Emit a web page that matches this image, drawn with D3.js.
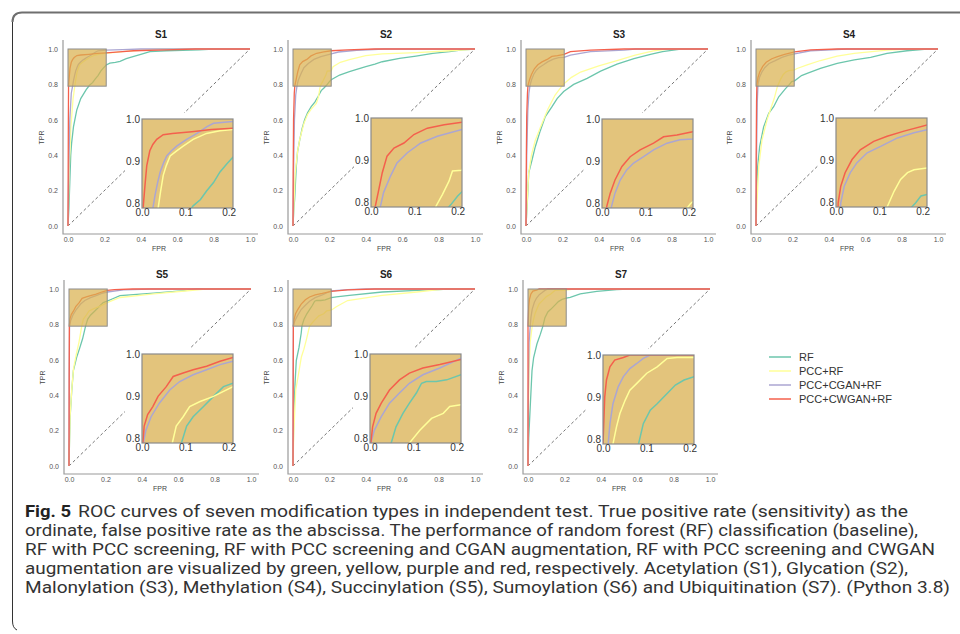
<!DOCTYPE html>
<html>
<head>
<meta charset="utf-8">
<script src="https://cdn.jsdelivr.net/npm/d3@7"></script>
<style>
  body { margin: 0; background: #fff; }
</style>
</head>
<body>
<svg id="fig" width="960" height="634"></svg>
<script>
// series / tick setup
const seriesNames = ["RF", "PCC+RF", "PCC+CGAN+RF", "PCC+CWGAN+RF"];
const seriesColors = ["#6cc6ac", "#ffff99", "#aba6d2", "#f4604d"];
const panelTitles = ["S1", "S2", "S3", "S4", "S5", "S6", "S7"];
const fprTicks = [0, 0.2, 0.4, 0.6, 0.8, 1.0];
const tprTicks = [0, 0.2, 0.4, 0.6, 0.8, 1.0];
const zoomFprTicks = [0, 0.1, 0.2];
const zoomTprTicks = [0.8, 0.9, 1.0];

// ROC points [FPR, TPR]
const s1_rf = [[0,0],[0.005,0.1],[0.01,0.25],[0.015,0.4],[0.02,0.47],[0.03,0.56],[0.048,0.655],[0.07,0.72],[0.1,0.77],[0.118,0.795],[0.135,0.81],[0.149,0.83],[0.165,0.85],[0.18,0.875],[0.195,0.893],[0.21,0.91],[0.23,0.92],[0.26,0.925],[0.286,0.93],[0.32,0.945],[0.357,0.957],[0.4,0.97],[0.45,0.985],[0.54,0.99],[0.72,0.995],[0.8,1],[1,1]];
const s1_pcc = [[0,0],[0.006,0.3],[0.015,0.55],[0.028,0.72],[0.038,0.795],[0.043,0.83],[0.049,0.867],[0.056,0.89],[0.065,0.913],[0.08,0.925],[0.095,0.936],[0.118,0.952],[0.149,0.966],[0.18,0.972],[0.21,0.975],[0.3,0.985],[0.4,0.993],[0.5,1],[1,1]];
const s1_cgan = [[0,0],[0.004,0.3],[0.01,0.6],[0.018,0.75],[0.026,0.795],[0.03,0.82],[0.036,0.85],[0.042,0.875],[0.05,0.897],[0.057,0.913],[0.068,0.925],[0.08,0.936],[0.09,0.943],[0.103,0.952],[0.12,0.962],[0.134,0.971],[0.15,0.982],[0.165,0.99],[0.209,0.994],[0.3,0.997],[0.4,1],[1,1]];
const s1_cwgan = [[0,0],[0.001,0.3],[0.002,0.6],[0.003,0.795],[0.007,0.845],[0.011,0.89],[0.018,0.925],[0.025,0.94],[0.034,0.952],[0.049,0.963],[0.07,0.966],[0.115,0.97],[0.16,0.975],[0.21,0.978],[0.3,0.985],[0.36,0.99],[0.54,0.995],[0.7,1],[1,1]];

const s2_rf = [[0,0],[0.005,0.1],[0.009,0.15],[0.018,0.335],[0.025,0.42],[0.037,0.486],[0.05,0.55],[0.064,0.6],[0.08,0.64],[0.1,0.674],[0.12,0.7],[0.137,0.73],[0.155,0.765],[0.17,0.78],[0.184,0.795],[0.2,0.816],[0.21,0.826],[0.256,0.853],[0.31,0.872],[0.35,0.885],[0.4,0.9],[0.45,0.915],[0.49,0.928],[0.585,0.947],[0.676,0.96],[0.768,0.975],[0.86,0.985],[0.93,0.995],[1,1]];
const s2_pcc = [[0,0],[0.005,0.12],[0.012,0.3],[0.025,0.42],[0.037,0.49],[0.06,0.58],[0.08,0.63],[0.1,0.66],[0.128,0.693],[0.14,0.73],[0.15,0.792],[0.165,0.82],[0.18,0.851],[0.188,0.875],[0.21,0.877],[0.22,0.9],[0.26,0.925],[0.31,0.94],[0.4,0.962],[0.49,0.972],[0.68,0.98],[0.86,0.99],[1,1]];
const s2_cgan = [[0,0],[0.003,0.3],[0.008,0.6],[0.015,0.74],[0.022,0.792],[0.029,0.824],[0.045,0.863],[0.06,0.894],[0.084,0.918],[0.115,0.941],[0.153,0.957],[0.21,0.973],[0.25,0.983],[0.35,0.993],[0.5,1],[1,1]];
const s2_cwgan = [[0,0],[0.001,0.3],[0.003,0.6],[0.007,0.75],[0.01,0.792],[0.018,0.831],[0.026,0.871],[0.037,0.91],[0.053,0.929],[0.076,0.941],[0.099,0.961],[0.13,0.976],[0.169,0.984],[0.21,0.99],[0.3,0.995],[0.45,1],[1,1]];

const s3_rf = [[0,0],[0.006,0.11],[0.015,0.3],[0.033,0.373],[0.051,0.448],[0.079,0.54],[0.106,0.618],[0.143,0.674],[0.171,0.72],[0.207,0.76],[0.262,0.8],[0.336,0.834],[0.41,0.875],[0.5,0.915],[0.593,0.945],[0.684,0.97],[0.75,0.985],[0.81,0.994],[0.85,1],[1,1]];
const s3_pcc = [[0,0],[0.007,0.15],[0.015,0.3],[0.03,0.4],[0.05,0.48],[0.08,0.56],[0.12,0.66],[0.16,0.74],[0.204,0.8],[0.25,0.84],[0.3,0.87],[0.4,0.905],[0.5,0.935],[0.6,0.965],[0.7,0.99],[0.78,1],[1,1]];
const s3_cgan = [[0,0],[0.004,0.4],[0.01,0.65],[0.016,0.75],[0.022,0.794],[0.03,0.825],[0.042,0.856],[0.057,0.88],[0.073,0.896],[0.096,0.911],[0.119,0.927],[0.15,0.943],[0.18,0.951],[0.209,0.953],[0.244,0.966],[0.354,0.985],[0.54,0.994],[0.6,1],[1,1]];
const s3_cwgan = [[0,0],[0.002,0.4],[0.004,0.62],[0.008,0.75],[0.011,0.794],[0.019,0.825],[0.03,0.856],[0.046,0.888],[0.065,0.911],[0.088,0.927],[0.119,0.943],[0.142,0.958],[0.173,0.962],[0.209,0.97],[0.244,0.985],[0.354,0.994],[0.54,1],[1,1]];

const s4_rf = [[0,0],[0.002,0.147],[0.009,0.335],[0.02,0.448],[0.042,0.56],[0.07,0.637],[0.097,0.674],[0.125,0.73],[0.161,0.775],[0.184,0.8],[0.196,0.816],[0.212,0.82],[0.25,0.85],[0.281,0.862],[0.354,0.89],[0.446,0.919],[0.54,0.938],[0.63,0.953],[0.72,0.975],[0.83,0.99],[0.94,1],[1,1]];
const s4_pcc = [[0,0],[0.006,0.147],[0.015,0.335],[0.033,0.486],[0.061,0.6],[0.08,0.66],[0.1,0.72],[0.118,0.79],[0.134,0.827],[0.149,0.855],[0.165,0.871],[0.18,0.878],[0.212,0.882],[0.226,0.89],[0.281,0.91],[0.354,0.935],[0.446,0.96],[0.54,0.975],[0.72,0.994],[0.85,1],[1,1]];
const s4_cgan = [[0,0],[0.003,0.4],[0.007,0.7],[0.011,0.8],[0.019,0.839],[0.033,0.871],[0.048,0.894],[0.072,0.918],[0.103,0.933],[0.142,0.953],[0.18,0.965],[0.212,0.973],[0.3,0.99],[0.5,1],[1,1]];
const s4_cwgan = [[0,0],[0.001,0.4],[0.003,0.7],[0.005,0.8],[0.011,0.839],[0.021,0.871],[0.037,0.902],[0.056,0.925],[0.087,0.945],[0.118,0.957],[0.157,0.969],[0.212,0.984],[0.3,0.995],[0.45,1],[1,1]];

const s5_rf = [[0,0],[0.003,0.15],[0.006,0.274],[0.015,0.425],[0.024,0.539],[0.042,0.614],[0.06,0.67],[0.075,0.72],[0.091,0.79],[0.103,0.83],[0.118,0.852],[0.142,0.876],[0.165,0.9],[0.188,0.923],[0.21,0.931],[0.24,0.945],[0.28,0.962],[0.466,0.977],[0.65,0.992],[0.7,1],[1,1]];
const s5_pcc = [[0,0],[0.003,0.15],[0.006,0.28],[0.015,0.43],[0.025,0.55],[0.04,0.63],[0.055,0.7],[0.07,0.79],[0.079,0.83],[0.095,0.852],[0.11,0.876],[0.134,0.888],[0.165,0.9],[0.21,0.923],[0.28,0.952],[0.466,0.972],[0.65,0.99],[0.75,1],[1,1]];
const s5_cgan = [[0,0],[0.001,0.5],[0.003,0.79],[0.009,0.82],[0.021,0.852],[0.04,0.884],[0.064,0.915],[0.087,0.935],[0.118,0.951],[0.149,0.963],[0.18,0.975],[0.21,0.983],[0.3,0.995],[0.45,1],[1,1]];
const s5_cwgan = [[0,0],[0.001,0.5],[0.002,0.79],[0.005,0.83],[0.013,0.857],[0.025,0.876],[0.037,0.9],[0.056,0.923],[0.072,0.947],[0.095,0.955],[0.118,0.963],[0.149,0.971],[0.18,0.983],[0.21,0.992],[0.25,0.997],[0.35,1],[1,1]];

const s6_rf = [[0,0],[0.004,0.274],[0.011,0.463],[0.018,0.595],[0.033,0.67],[0.045,0.75],[0.049,0.79],[0.06,0.828],[0.076,0.86],[0.091,0.884],[0.107,0.908],[0.119,0.931],[0.13,0.935],[0.153,0.935],[0.177,0.939],[0.21,0.951],[0.238,0.955],[0.31,0.964],[0.49,0.983],[0.68,0.992],[0.8,0.996],[0.85,1],[1,1]];
const s6_pcc = [[0,0],[0.004,0.18],[0.015,0.43],[0.027,0.5],[0.046,0.616],[0.06,0.66],[0.075,0.72],[0.091,0.79],[0.115,0.82],[0.142,0.848],[0.169,0.86],[0.184,0.876],[0.21,0.88],[0.238,0.9],[0.3,0.935],[0.49,0.964],[0.68,0.983],[0.8,0.996],[0.85,1],[1,1]];
const s6_cgan = [[0,0],[0.001,0.5],[0.002,0.79],[0.01,0.82],[0.026,0.852],[0.045,0.884],[0.068,0.908],[0.091,0.931],[0.122,0.951],[0.161,0.967],[0.21,0.99],[0.3,0.997],[0.4,1],[1,1]];
const s6_cwgan = [[0,0],[0.001,0.5],[0.002,0.79],[0.006,0.828],[0.014,0.86],[0.026,0.884],[0.045,0.915],[0.068,0.939],[0.091,0.955],[0.122,0.967],[0.161,0.975],[0.21,0.987],[0.3,0.995],[0.45,1],[1,1]];

const s7_rf = [[0,0],[0.004,0.16],[0.013,0.35],[0.022,0.538],[0.031,0.613],[0.049,0.689],[0.068,0.745],[0.082,0.79],[0.093,0.838],[0.109,0.87],[0.125,0.885],[0.148,0.909],[0.167,0.929],[0.187,0.941],[0.21,0.949],[0.232,0.953],[0.287,0.972],[0.378,0.987],[0.488,0.996],[0.55,1],[1,1]];
const s7_pcc = [[0,0],[0.002,0.3],[0.006,0.55],[0.012,0.7],[0.023,0.79],[0.031,0.83],[0.039,0.862],[0.051,0.893],[0.062,0.917],[0.078,0.933],[0.101,0.957],[0.125,0.972],[0.148,0.992],[0.171,0.994],[0.21,0.994],[0.25,1],[1,1]];
const s7_cgan = [[0,0],[0.002,0.4],[0.006,0.7],[0.012,0.79],[0.016,0.838],[0.023,0.885],[0.035,0.925],[0.047,0.949],[0.062,0.968],[0.078,0.98],[0.093,0.992],[0.109,1],[1,1]];
const s7_cwgan = [[0,0],[0,0.79],[0.002,0.846],[0.004,0.901],[0.008,0.941],[0.016,0.972],[0.027,0.988],[0.047,0.994],[0.062,1],[1,1]];

const captionLines = [
  "ROC curves of seven modification types in independent test. True positive rate (sensitivity) as the",
  "ordinate, false positive rate as the abscissa. The performance of random forest (RF) classification (baseline),",
  "RF with PCC screening, RF with PCC screening and CGAN augmentation, RF with PCC screening and CWGAN",
  "augmentation are visualized by green, yellow, purple and red, respectively. Acetylation (S1), Glycation (S2),",
  "Malonylation (S3), Methylation (S4), Succinylation (S5), Sumoylation (S6) and Ubiquitination (S7). (Python 3.8)"
];

const panelCurves = [
  [s1_rf, s1_pcc, s1_cgan, s1_cwgan],
  [s2_rf, s2_pcc, s2_cgan, s2_cwgan],
  [s3_rf, s3_pcc, s3_cgan, s3_cwgan],
  [s4_rf, s4_pcc, s4_cgan, s4_cwgan],
  [s5_rf, s5_pcc, s5_cgan, s5_cwgan],
  [s6_rf, s6_pcc, s6_cgan, s6_cwgan],
  [s7_rf, s7_pcc, s7_cgan, s7_cwgan]
];

// layout: where x=0 / y=1 sit, and the zoomed inset box (page pixels)
const W = 182, H = 177, IW = 91, IH = 89;
const layout = [
  {x0: 68,  top: 49,  ix: 142, iy: 119},
  {x0: 293, top: 49,  ix: 371, iy: 118},
  {x0: 526, top: 49,  ix: 602, iy: 119},
  {x0: 756, top: 49,  ix: 836, iy: 118},
  {x0: 69,  top: 289, ix: 142, iy: 354},
  {x0: 293, top: 289, ix: 370, iy: 354},
  {x0: 528, top: 289, ix: 603, iy: 355}
];

const svg = d3.select("#fig");
const FONT = "'Liberation Sans', Arial, sans-serif";
const tan = "#e3c47c";

// page frame
svg.append("path").attr("d", "M960,12.5 H22 Q12.5,12.5 12.5,22")
  .attr("fill", "none").attr("stroke", "#6f6f6f").attr("stroke-width", 2);
svg.append("path").attr("d", "M12.5,22 V621 Q12.5,628 17,630")
  .attr("fill", "none").attr("stroke", "#333").attr("stroke-width", 1);

function styleTicks(sel, size, color) {
  sel.select(".domain").remove();
  sel.selectAll("text").attr("font-family", FONT).attr("font-size", size).attr("fill", color);
}

panelCurves.forEach(function(curves, p) {
  var L = layout[p];
  var y0 = L.top + H;
  var x = d3.scaleLinear().domain([0, 1]).range([L.x0, L.x0 + W]);
  var y = d3.scaleLinear().domain([0, 1]).range([y0, L.top]);
  var g = svg.append("g").attr("class", "panel" + p);

  // spines (left + bottom only)
  g.append("path")
    .attr("d", "M" + (L.x0 - 5) + "," + (L.top - 9) + " V" + (y0 + 8) + " H" + (L.x0 + W + 8))
    .attr("fill", "none").attr("stroke", "#9a9a9a").attr("stroke-width", 1.2);

  g.append("g").attr("transform", "translate(0," + (y0 + 8) + ")")
    .call(d3.axisBottom(x).tickValues(fprTicks).tickFormat(d3.format(".1f")).tickSize(0).tickPadding(3))
    .call(styleTicks, 7, "#555");
  g.append("g").attr("transform", "translate(" + (L.x0 - 5) + ",0)")
    .call(d3.axisLeft(y).tickValues(tprTicks).tickFormat(d3.format(".1f")).tickSize(0).tickPadding(5))
    .call(styleTicks, 7, "#555");

  g.append("text").attr("x", L.x0 + W / 2 + 2).attr("y", L.top - 11)
    .attr("text-anchor", "middle").attr("font-family", FONT).attr("font-size", 10)
    .attr("font-weight", "bold").attr("fill", "#222").text(panelTitles[p]);
  g.append("text").attr("x", L.x0 + W / 2).attr("y", y0 + 25)
    .attr("text-anchor", "middle").attr("font-family", FONT).attr("font-size", 7)
    .attr("fill", "#444").text("FPR");
  g.append("text").attr("transform", "translate(" + (L.x0 - 24) + "," + (L.top + H / 2) + ") rotate(-90)")
    .attr("text-anchor", "middle").attr("font-family", FONT).attr("font-size", 7)
    .attr("fill", "#444").text("TPR");

  // chance line
  g.append("line")
    .attr("x1", x(0)).attr("y1", y(0)).attr("x2", x(1)).attr("y2", y(1))
    .attr("stroke", "#666").attr("stroke-width", 0.9).attr("stroke-dasharray", "3,2.5");

  var line = d3.line().x(function(d){ return x(d[0]); }).y(function(d){ return y(d[1]); });
  curves.forEach(function(c, i) {
    g.append("path").datum(c).attr("d", line)
      .attr("fill", "none").attr("stroke", seriesColors[i]).attr("stroke-width", 1.3);
  });

  // zoomed region marker
  g.append("rect")
    .attr("x", x(0)).attr("y", y(1.0))
    .attr("width", x(0.21) - x(0)).attr("height", y(0.79) - y(1.0))
    .attr("fill", "#d9b14f").attr("fill-opacity", 0.72)
    .attr("stroke", "#8c8c8c").attr("stroke-width", 1);

  // inset
  var ix = d3.scaleLinear().domain([0, 0.21]).range([L.ix, L.ix + IW]);
  var iy = d3.scaleLinear().domain([0.79, 1.0]).range([L.iy + IH, L.iy]);
  g.append("rect").attr("x", L.ix - 17).attr("y", L.iy - 6)
    .attr("width", IW + 24).attr("height", IH + 24).attr("fill", "#fff");
  g.append("rect").attr("x", L.ix).attr("y", L.iy).attr("width", IW).attr("height", IH)
    .attr("fill", tan);
  var clipId = "clip" + p;
  g.append("clipPath").attr("id", clipId).append("rect")
    .attr("x", L.ix).attr("y", L.iy).attr("width", IW).attr("height", IH);
  var iline = d3.line().x(function(d){ return ix(d[0]); }).y(function(d){ return iy(d[1]); });
  var ig = g.append("g").attr("clip-path", "url(#" + clipId + ")");
  curves.forEach(function(c, i) {
    ig.append("path").datum(c).attr("d", iline)
      .attr("fill", "none").attr("stroke", seriesColors[i]).attr("stroke-width", 1.5);
  });
  g.append("rect").attr("x", L.ix).attr("y", L.iy).attr("width", IW).attr("height", IH)
    .attr("fill", "none").attr("stroke", "#8a8a8a").attr("stroke-width", 1.2);

  g.append("g").attr("transform", "translate(0," + (L.iy + IH) + ")")
    .call(d3.axisBottom(ix).tickValues(zoomFprTicks).tickFormat(d3.format(".1f")).tickSize(0).tickPadding(1))
    .call(styleTicks, 10, "#333");
  g.append("g").attr("transform", "translate(" + L.ix + ",0)")
    .call(d3.axisLeft(iy).tickValues(zoomTprTicks).tickFormat(d3.format(".1f")).tickSize(0).tickPadding(2))
    .call(styleTicks, 10, "#333");
});

// legend
var leg = svg.append("g").attr("transform", "translate(769,357)");
seriesNames.forEach(function(name, i) {
  leg.append("line").attr("x1", 0).attr("x2", 22).attr("y1", i * 14).attr("y2", i * 14)
    .attr("stroke", seriesColors[i]).attr("stroke-width", 1.5);
  leg.append("text").attr("x", 30).attr("y", i * 14 + 4)
    .attr("font-family", FONT).attr("font-size", 11).attr("fill", "#333").text(name);
});

// caption
var CAP = "'Liberation Sans Narrow', Roboto, sans-serif";
var capEnds = [908, 918, 935, 908, 950];
svg.append("text").attr("x", 25).attr("y", 517)
  .attr("font-family", CAP).attr("font-size", 16).attr("font-weight", "bold")
  .attr("fill", "#222").attr("textLength", 46).attr("lengthAdjust", "spacingAndGlyphs")
  .text("Fig. 5");
captionLines.forEach(function(t, i) {
  var x0 = i === 0 ? 78 : 25;
  svg.append("text").attr("x", x0).attr("y", 517 + i * 19)
    .attr("font-family", CAP).attr("font-size", 16).attr("fill", "#333")
    .attr("textLength", capEnds[i] - x0).attr("lengthAdjust", "spacingAndGlyphs")
    .text(t);
});
</script>
</body>
</html>
